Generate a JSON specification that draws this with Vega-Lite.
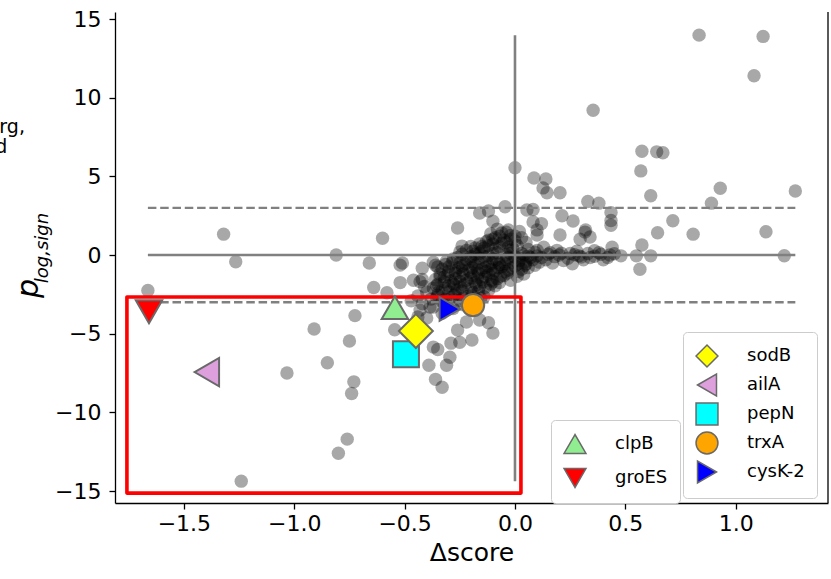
{
  "$schema": "https://vega.github.io/schema/vega-lite/v6.json",
  "width": 713,
  "height": 491,
  "autosize": {"type": "none"},
  "padding": {"left": 115, "top": 12, "right": 3, "bottom": 76},
  "config": {
    "font": "DejaVu Sans",
    "view": {"stroke": null},
    "axis": {
      "domainColor": "black", "domainWidth": 1.3, "tickColor": "black", "tickWidth": 1.3, "tickSize": 6,
      "labelFontSize": 22, "labelColor": "black", "labelFont": "DejaVu Sans",
      "titleFont": "DejaVu Sans", "titleColor": "black", "titleFontWeight": "normal", "grid": false,
      "labelFlush": false, "labelOverlap": false
    },
    "legend": {
      "labelFont": "DejaVu Sans", "labelFontSize": 18, "labelColor": "black",
      "symbolSize": 480, "symbolStrokeWidth": 1.5,
      "strokeColor": "#cccccc", "fillColor": "#ffffff", "cornerRadius": 4,
      "padding": 12, "labelOffset": 28
    }
  },
  "encoding": {
    "x": {"field": "x", "type": "quantitative", "scale": {"domain": [-1.812, 1.418], "nice": false, "zero": false},
      "axis": {"values": [-1.5, -1, -0.5, 0, 0.5, 1], "format": ".1f", "title": "Δscore", "titleFontSize": 25, "labelPadding": 4, "titlePadding": 6}},
    "y": {"field": "y", "type": "quantitative", "scale": {"domain": [-15.76, 15.45], "nice": false, "zero": false},
      "axis": {"values": [-15, -10, -5, 0, 5, 10, 15], "format": "d", "labelPadding": 8, "title": "p", "titleFontSize": 30, "titleFontStyle": "italic", "titleAngle": 270, "titleBaseline": "alphabetic", "titleAlign": "center", "titleX": -78, "titleY": 276}}
  },
  "layer": [
    {
      "data": {"values": [
        {"x":0.834,"y":13.98},{"x":1.124,"y":13.9},{"x":1.083,"y":11.4},{"x":0.354,"y":9.2},{"x":0.575,"y":6.6},{"x":0.642,"y":6.56},{"x":0.67,"y":6.5},{"x":0.57,"y":5.35},{"x":0.615,"y":3.77},{"x":0.93,"y":4.25},{"x":0.89,"y":3.3},{"x":1.27,"y":4.07},{"x":0.715,"y":2.18},{"x":0.646,"y":1.42},{"x":0.807,"y":1.33},{"x":1.137,"y":1.48},{"x":1.22,"y":-0.04},{"x":0.566,"y":-0.9},{"x":0.55,"y":-0.05},{"x":0.615,"y":-0.05},{"x":0.575,"y":0.64},{"x":0.44,"y":0.5},{"x":0.435,"y":2.2},{"x":0.435,"y":2.7},{"x":0.435,"y":1.9},{"x":0.33,"y":3.4},{"x":0.38,"y":3.3},{"x":0.32,"y":1.6},{"x":0.295,"y":1.0},{"x":0.204,"y":3.96},{"x":0.145,"y":3.96},{"x":0.127,"y":4.27},{"x":0.14,"y":4.83},{"x":0.086,"y":4.9},{"x":0.0,"y":5.55},{"x":0.213,"y":2.5},{"x":0.263,"y":2.17},{"x":0.204,"y":1.27},{"x":0.082,"y":2.9},{"x":0.082,"y":2.1},{"x":0.12,"y":2.0},{"x":0.1,"y":1.27},{"x":-0.045,"y":3.07},{"x":-0.12,"y":2.8},{"x":-0.16,"y":2.67},{"x":-0.1,"y":2.15},{"x":-0.26,"y":1.72},{"x":0.317,"y":1.46},{"x":0.054,"y":2.86},{"x":0.1,"y":1.6},{"x":0.34,"y":1.15},
        {"x":-1.32,"y":1.33},{"x":-1.265,"y":-0.43},{"x":-0.81,"y":0.0},{"x":-0.66,"y":-0.5},{"x":-0.6,"y":1.07},{"x":-0.52,"y":-0.64},{"x":-0.64,"y":-2.06},{"x":-1.663,"y":-2.25},{"x":-0.58,"y":-2.4},{"x":-0.725,"y":-3.85},{"x":-0.91,"y":-4.7},{"x":-0.75,"y":-5.46},{"x":-0.85,"y":-6.85},{"x":-1.033,"y":-7.5},{"x":-0.73,"y":-8.06},{"x":-0.74,"y":-8.8},{"x":-0.76,"y":-11.7},{"x":-0.8,"y":-12.6},{"x":-1.24,"y":-14.37},{"x":-0.42,"y":-0.84},{"x":-0.43,"y":-1.7},{"x":-0.51,"y":-0.5},{"x":-0.52,"y":-1.75},{"x":-0.24,"y":0.57},{"x":-0.37,"y":-0.45},{"x":-0.35,"y":-0.76},{"x":-0.46,"y":-1.6},{"x":-0.42,"y":-1.55},{"x":-0.545,"y":-4.75},{"x":-0.4,"y":-4.0},{"x":-0.37,"y":-5.85},{"x":-0.35,"y":-6.0},{"x":-0.29,"y":-5.6},{"x":-0.25,"y":-5.55},{"x":-0.195,"y":-5.4},{"x":-0.295,"y":-6.5},{"x":-0.39,"y":-7.0},{"x":-0.31,"y":-7.0},{"x":-0.36,"y":-7.9},{"x":-0.33,"y":-8.4},{"x":-0.12,"y":-4.3},{"x":-0.1,"y":-4.96},{"x":-0.26,"y":-4.77},{"x":-0.44,"y":-3.94},{"x":-0.43,"y":-3.5},{"x":-0.16,"y":-4.13},{"x":-0.385,"y":-3.3},{"x":-0.33,"y":-3.7},{"x":-0.22,"y":-4.26},
        {"x":-0.38,"y":-2.8},{"x":-0.33,"y":-2.95},{"x":-0.29,"y":-2.7},{"x":-0.25,"y":-2.9},{"x":-0.21,"y":-2.6},{"x":-0.17,"y":-2.85},{"x":-0.35,"y":-2.55},{"x":-0.27,"y":-2.45},{"x":-0.19,"y":-2.4},{"x":-0.14,"y":-2.65},{"x":-0.4,"y":-2.35},
        {"x":-0.37,"y":-2.1},{"x":-0.33,"y":-2.25},{"x":-0.3,"y":-1.95},{"x":-0.26,"y":-2.2},{"x":-0.23,"y":-1.9},{"x":-0.2,"y":-2.15},{"x":-0.16,"y":-2.0},{"x":-0.12,"y":-2.25},{"x":-0.09,"y":-1.95},{"x":-0.35,"y":-1.85},{"x":-0.28,"y":-1.8},{"x":-0.18,"y":-1.75},{"x":-0.11,"y":-1.85},{"x":-0.41,"y":-2.0},
        {"x":-0.36,"y":-1.55},{"x":-0.32,"y":-1.4},{"x":-0.29,"y":-1.65},{"x":-0.25,"y":-1.35},{"x":-0.22,"y":-1.6},{"x":-0.19,"y":-1.3},{"x":-0.15,"y":-1.55},{"x":-0.12,"y":-1.25},{"x":-0.08,"y":-1.5},{"x":-0.05,"y":-1.3},{"x":-0.02,"y":-1.6},{"x":-0.34,"y":-1.2},{"x":-0.27,"y":-1.15},{"x":-0.17,"y":-1.45},{"x":-0.1,"y":-1.7},{"x":0.01,"y":-1.35},{"x":0.04,"y":-1.2},
        {"x":-0.33,"y":-0.9},{"x":-0.3,"y":-0.75},{"x":-0.27,"y":-1.0},{"x":-0.24,"y":-0.7},{"x":-0.21,"y":-0.95},{"x":-0.18,"y":-0.65},{"x":-0.15,"y":-0.9},{"x":-0.12,"y":-0.7},{"x":-0.09,"y":-1.0},{"x":-0.06,"y":-0.75},{"x":-0.03,"y":-0.95},{"x":0.0,"y":-0.7},{"x":0.03,"y":-0.9},{"x":0.06,"y":-0.8},{"x":-0.36,"y":-0.65},{"x":-0.2,"y":-1.1},{"x":-0.13,"y":-1.05},{"x":-0.07,"y":-0.6},{"x":0.09,"y":-0.65},
        {"x":-0.31,"y":-0.4},{"x":-0.28,"y":-0.25},{"x":-0.25,"y":-0.5},{"x":-0.22,"y":-0.3},{"x":-0.19,"y":-0.45},{"x":-0.16,"y":-0.2},{"x":-0.13,"y":-0.4},{"x":-0.1,"y":-0.25},{"x":-0.07,"y":-0.5},{"x":-0.04,"y":-0.3},{"x":-0.01,"y":-0.45},{"x":0.02,"y":-0.2},{"x":0.05,"y":-0.4},{"x":0.08,"y":-0.3},{"x":0.11,"y":-0.45},
        {"x":-0.42,"y":-3.1},{"x":-0.37,"y":-3.3},{"x":-0.32,"y":-3.05},{"x":-0.28,"y":-3.4},{"x":-0.24,"y":-3.15},{"x":-0.2,"y":-3.35},{"x":-0.44,"y":-2.6},{"x":-0.47,"y":-2.9},
        {"x":-0.22,"y":0.3},{"x":-0.18,"y":0.45},{"x":-0.15,"y":0.25},{"x":-0.12,"y":0.6},{"x":-0.09,"y":0.4},{"x":-0.06,"y":0.75},{"x":-0.03,"y":0.5},{"x":0.0,"y":0.9},{"x":-0.1,"y":1.0},{"x":-0.07,"y":1.2},{"x":-0.04,"y":1.45},{"x":-0.08,"y":1.65},{"x":-0.02,"y":1.25},{"x":0.01,"y":0.6},{"x":0.03,"y":1.1},{"x":-0.13,"y":0.85},{"x":-0.05,"y":0.95},{"x":-0.11,"y":1.35},{"x":0.02,"y":1.5},{"x":-0.16,"y":0.7},{"x":-0.2,"y":0.55},{"x":-0.25,"y":0.2},{"x":0.05,"y":0.8},{"x":0.06,"y":0.35},
        {"x":-0.24,"y":0.05},{"x":-0.2,"y":-0.1},{"x":-0.16,"y":0.12},{"x":-0.12,"y":-0.05},{"x":-0.08,"y":0.15},{"x":-0.04,"y":0.0},{"x":0.0,"y":-0.12},{"x":0.03,"y":0.1},{"x":0.06,"y":-0.05},{"x":0.09,"y":0.18},{"x":0.12,"y":-0.15},{"x":0.15,"y":0.05},{"x":0.18,"y":-0.1},{"x":0.21,"y":0.12},{"x":0.24,"y":-0.2},{"x":0.27,"y":0.02},{"x":0.3,"y":-0.12},{"x":0.33,"y":0.1},{"x":0.36,"y":-0.08},{"x":0.39,"y":0.05},{"x":0.42,"y":-0.15},{"x":0.45,"y":0.08},{"x":0.48,"y":-0.05},{"x":0.14,"y":-0.3},{"x":0.22,"y":-0.35},{"x":0.31,"y":-0.3},{"x":0.4,"y":-0.3},{"x":0.1,"y":0.3},{"x":0.19,"y":0.3},{"x":0.28,"y":0.25},{"x":0.36,"y":0.28},{"x":0.05,"y":-0.55},{"x":0.17,"y":-0.5},{"x":0.26,"y":-0.55},{"x":0.13,"y":0.5},{"x":-0.02,"y":0.3},
        {"x":-0.355,"y":-2.7},{"x":-0.315,"y":-2.8},{"x":-0.275,"y":-2.55},{"x":-0.235,"y":-2.75},{"x":-0.195,"y":-2.55},{"x":-0.155,"y":-2.75},{"x":-0.3,"y":-2.35},{"x":-0.24,"y":-2.3},{"x":-0.165,"y":-2.3},{"x":-0.345,"y":-2.35},
        {"x":-0.355,"y":-1.95},{"x":-0.315,"y":-2.1},{"x":-0.275,"y":-1.9},{"x":-0.245,"y":-2.05},{"x":-0.215,"y":-1.75},{"x":-0.175,"y":-1.9},{"x":-0.135,"y":-2.05},{"x":-0.105,"y":-1.6},{"x":-0.07,"y":-1.75},{"x":-0.32,"y":-1.7},{"x":-0.25,"y":-1.7},{"x":-0.145,"y":-1.7},
        {"x":-0.34,"y":-1.4},{"x":-0.305,"y":-1.25},{"x":-0.27,"y":-1.5},{"x":-0.235,"y":-1.2},{"x":-0.2,"y":-1.45},{"x":-0.165,"y":-1.15},{"x":-0.135,"y":-1.4},{"x":-0.1,"y":-1.15},{"x":-0.065,"y":-1.35},{"x":-0.035,"y":-1.15},{"x":-0.3,"y":-1.05},{"x":-0.24,"y":-0.95},{"x":-0.17,"y":-0.95},{"x":-0.11,"y":-0.9},{"x":-0.045,"y":-1.05},{"x":0.015,"y":-1.05},
        {"x":-0.315,"y":-0.6},{"x":-0.285,"y":-0.5},{"x":-0.255,"y":-0.8},{"x":-0.225,"y":-0.55},{"x":-0.195,"y":-0.8},{"x":-0.165,"y":-0.5},{"x":-0.135,"y":-0.8},{"x":-0.105,"y":-0.5},{"x":-0.075,"y":-0.8},{"x":-0.045,"y":-0.55},{"x":-0.015,"y":-0.8},{"x":0.015,"y":-0.55},{"x":0.045,"y":-0.65},
        {"x":-0.26,"y":-0.15},{"x":-0.2,"y":-0.25},{"x":-0.14,"y":-0.1},{"x":-0.085,"y":-0.3},{"x":-0.03,"y":-0.15},{"x":0.02,"y":-0.35},{"x":0.07,"y":-0.15},
        {"x":-0.19,"y":0.25},{"x":-0.14,"y":0.45},{"x":-0.1,"y":0.7},{"x":-0.07,"y":0.55},{"x":-0.04,"y":0.8},{"x":-0.02,"y":1.0},{"x":-0.09,"y":1.1},{"x":-0.06,"y":1.4},{"x":-0.03,"y":1.6},{"x":-0.01,"y":0.4},{"x":0.0,"y":1.2},{"x":-0.12,"y":0.95},{"x":-0.15,"y":0.55},
        {"x":-0.18,"y":0.05},{"x":-0.1,"y":0.1},{"x":-0.02,"y":0.1},{"x":0.04,"y":0.0},{"x":0.1,"y":-0.05},{"x":0.16,"y":0.15},{"x":0.2,"y":0.0},{"x":0.25,"y":0.1},{"x":0.29,"y":-0.05},{"x":0.34,"y":-0.15},{"x":0.38,"y":0.15},{"x":0.43,"y":0.0}
      ]},
      "mark": {"type": "circle", "size": 180, "fill": "black", "opacity": 0.34, "stroke": null}
    },
    {
      "data": {"values": [{"x": -1.663, "x2": 1.27, "y": 0}]},
      "mark": {"type": "rule", "color": "#808080", "strokeWidth": 2.6},
      "encoding": {"x2": {"field": "x2"}}
    },
    {
      "data": {"values": [{"x": -1.663, "x2": 1.27, "y": 3}, {"x": -1.663, "x2": 1.27, "y": -3}]},
      "mark": {"type": "rule", "color": "#808080", "strokeWidth": 2.4, "strokeDash": [8.5, 3.8]},
      "encoding": {"x2": {"field": "x2"}}
    },
    {
      "data": {"values": [{"x": 0, "y": -14.37, "y2": 13.98}]},
      "mark": {"type": "rule", "color": "#808080", "strokeWidth": 2.6},
      "encoding": {"y2": {"field": "y2"}}
    },
    {
      "data": {"values": [{"x": -1.758, "x2": 0.027, "y": -15.13, "y2": -2.67}]},
      "mark": {"type": "rect", "fill": null, "fillOpacity": 0, "stroke": "red", "strokeWidth": 3.6, "strokeJoin": "round"},
      "encoding": {"x2": {"field": "x2"}, "y2": {"field": "y2"}}
    },
    {
      "data": {"values": [{"x": 1.418, "y": -15.76, "y2": 15.45}]},
      "mark": {"type": "rule", "color": "black", "strokeWidth": 1.3, "clip": false},
      "encoding": {"y2": {"field": "y2"}}
    },
    {
      "data": {"values": [{"x": -2.116, "y": 0.45, "t": "log,sign"}]},
      "mark": {"type": "text", "angle": 270, "fontSize": 18, "fontStyle": "italic", "align": "center", "baseline": "alphabetic", "clip": false, "color": "black"},
      "encoding": {"text": {"field": "t"}}
    },
    {
      "data": {"values": [{"x": -2.22, "y": 7.76, "t": "rg,"}, {"x": -2.3, "y": 6.48, "t": "d"}]},
      "mark": {"type": "text", "fontSize": 19, "align": "right", "baseline": "alphabetic", "clip": false, "color": "black"},
      "encoding": {"text": {"field": "t"}}
    },
    {
      "data": {"values": [
        {"gene": "sodB", "x": -0.449, "y": -4.83},
        {"gene": "ailA", "x": -1.396, "y": -7.44},
        {"gene": "pepN", "x": -0.494, "y": -6.3},
        {"gene": "trxA", "x": -0.19, "y": -3.18},
        {"gene": "cysK-2", "x": -0.295, "y": -3.43}
      ]},
      "encoding": {
        "fill": {"field": "gene", "type": "nominal",
          "scale": {"domain": ["sodB", "ailA", "pepN", "trxA", "cysK-2"], "range": ["#ffff00", "#dda0dd", "#00ffff", "#ffa500", "#0000ff"]},
          "legend": {"title": null, "orient": "none", "legendX": 568, "legendY": 320, "rowPadding": 1}},
        "shape": {"field": "gene", "type": "nominal",
          "scale": {"domain": ["sodB", "ailA", "pepN", "trxA", "cysK-2"], "range": ["diamond", "triangle-left", "square", "circle", "triangle-right"]},
          "legend": {"title": null, "orient": "none", "legendX": 568, "legendY": 320, "rowPadding": 1}},
        "stroke": {"field": "gene", "type": "nominal",
          "scale": {"domain": ["sodB", "ailA", "pepN", "trxA", "cysK-2"], "range": ["#696969", "#696969", "#696969", "#696969", "#696969"]},
          "legend": {"title": null, "orient": "none", "legendX": 568, "legendY": 320, "rowPadding": 1}},
        "strokeWidth": {"value": 2}
      },
      "layer": [
        {"transform": [{"filter": "datum.gene === 'cysK-2'"}], "mark": {"type": "point", "filled": true, "opacity": 1, "size": 560}},
        {"transform": [{"filter": "datum.gene === 'trxA'"}], "mark": {"type": "point", "filled": true, "opacity": 1, "size": 500}},
        {"transform": [{"filter": "datum.gene === 'pepN'"}], "mark": {"type": "point", "filled": true, "opacity": 1, "size": 676}},
        {"transform": [{"filter": "datum.gene === 'sodB'"}], "mark": {"type": "point", "filled": true, "opacity": 1, "size": 1156}},
        {"transform": [{"filter": "datum.gene === 'ailA'"}], "mark": {"type": "point", "filled": true, "opacity": 1, "size": 800}}
      ]
    },
    {
      "data": {"values": [
        {"gene": "clpB", "x": -0.544, "y": -3.34},
        {"gene": "groES", "x": -1.658, "y": -3.6}
      ]},
      "mark": {"type": "point", "filled": true, "opacity": 1, "size": 700},
      "encoding": {
        "fill": {"field": "gene", "type": "nominal",
          "scale": {"domain": ["clpB", "groES"], "range": ["#90ee90", "#ff0000"]},
          "legend": {"title": null, "orient": "none", "legendX": 436, "legendY": 408, "rowPadding": 8}},
        "shape": {"field": "gene", "type": "nominal",
          "scale": {"domain": ["clpB", "groES"], "range": ["triangle-up", "triangle-down"]},
          "legend": {"title": null, "orient": "none", "legendX": 436, "legendY": 408, "rowPadding": 8}},
        "stroke": {"field": "gene", "type": "nominal",
          "scale": {"domain": ["clpB", "groES"], "range": ["#696969", "#696969"]},
          "legend": {"title": null, "orient": "none", "legendX": 436, "legendY": 408, "rowPadding": 8}},
        "strokeWidth": {"value": 2}
      }
    }
  ],
  "resolve": {"scale": {"fill": "independent", "shape": "independent", "stroke": "independent"}}
}
